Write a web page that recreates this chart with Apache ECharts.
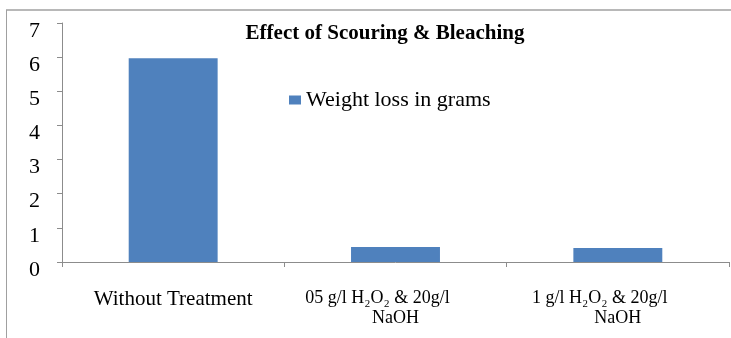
<!DOCTYPE html>
<html><head><meta charset="utf-8">
<script src="https://cdn.jsdelivr.net/npm/echarts@6/dist/echarts.min.js"></script>
<style>html,body{margin:0;padding:0;background:#fff}#c{width:731px;height:338px}</style>
</head><body><div id="c"></div>
<script>
const categories = ['Without Treatment', '05 g/l H₂O₂ & 20g/l\nNaOH', '1 g/l H₂O₂ & 20g/l\nNaOH'];
const weightLoss = [5.97, 0.44, 0.41];
const seriesName = 'Weight loss in grams';
const titleText = 'Effect of Scouring & Bleaching';
const yTicks = [0, 1, 2, 3, 4, 5, 6, 7];

const font = '"Liberation Serif", "Times New Roman", serif';
const pad = '\u00a0\u00a0\u00a0\u00a0\u00a0\u00a0\u00a0\u00a0';
const chart = echarts.init(document.getElementById('c'));
chart.setOption({
  animation: false,
  backgroundColor: '#fff',
  title: {
    text: titleText, left: 380, top: 18, textAlign: 'center',
    textStyle: { fontFamily: font, fontSize: 21, fontWeight: 'bold', color: '#000' }
  },
  legend: {
    left: 284, top: 84, icon: 'rect', itemWidth: 12, itemHeight: 9, itemGap: 8,
    data: [seriesName],
    textStyle: { fontFamily: font, fontSize: 22, color: '#000', padding: [8, 0, 0, 0] }
  },
  grid: { left: 62, right: 2, top: 23, bottom: 76, containLabel: false },
  xAxis: {
    type: 'category', data: categories,
    axisLine: { lineStyle: { color: '#8c8c8c', width: 1 } },
    axisTick: { show: true, alignWithLabel: false, length: 5, lineStyle: { color: '#8c8c8c' } },
    axisLabel: { margin: 26, interval: 0, fontFamily: font, fontSize: 18, color: '#000', lineHeight: 20,
      formatter: function (v, i) {
        if (i === 0) return '{a|' + v + '}';
        const parts = v.split('\n');
        return parts[0] + pad + '\n' + parts[1];
      },
      rich: { a: { fontFamily: font, fontSize: 21, lineHeight: 22, color: '#000' } } }
  },
  yAxis: {
    type: 'value', min: 0, max: 7, interval: 1,
    axisLine: { show: true, lineStyle: { color: '#8c8c8c', width: 1 } },
    axisTick: { show: true, length: 5, lineStyle: { color: '#8c8c8c' } },
    splitLine: { show: false },
    axisLabel: { margin: 22, fontFamily: font, fontSize: 22, color: '#000',
      verticalAlign: 'top', lineHeight: 16,
      formatter: function (v) { return yTicks.indexOf(v) >= 0 ? String(v) : ''; } }
  },
  series: [{
    name: seriesName, type: 'bar', data: weightLoss, barWidth: '40%',
    itemStyle: { color: '#4F81BD' }
  }],
  graphic: [
    { type: 'line', shape: { x1: 6, y1: 10, x2: 731, y2: 10 }, style: { stroke: '#a0a0a0', lineWidth: 1.5 } },
    { type: 'line', shape: { x1: 6.5, y1: 10, x2: 6.5, y2: 338 }, style: { stroke: '#a0a0a0', lineWidth: 1 } }
  ]
});
</script></body></html>
